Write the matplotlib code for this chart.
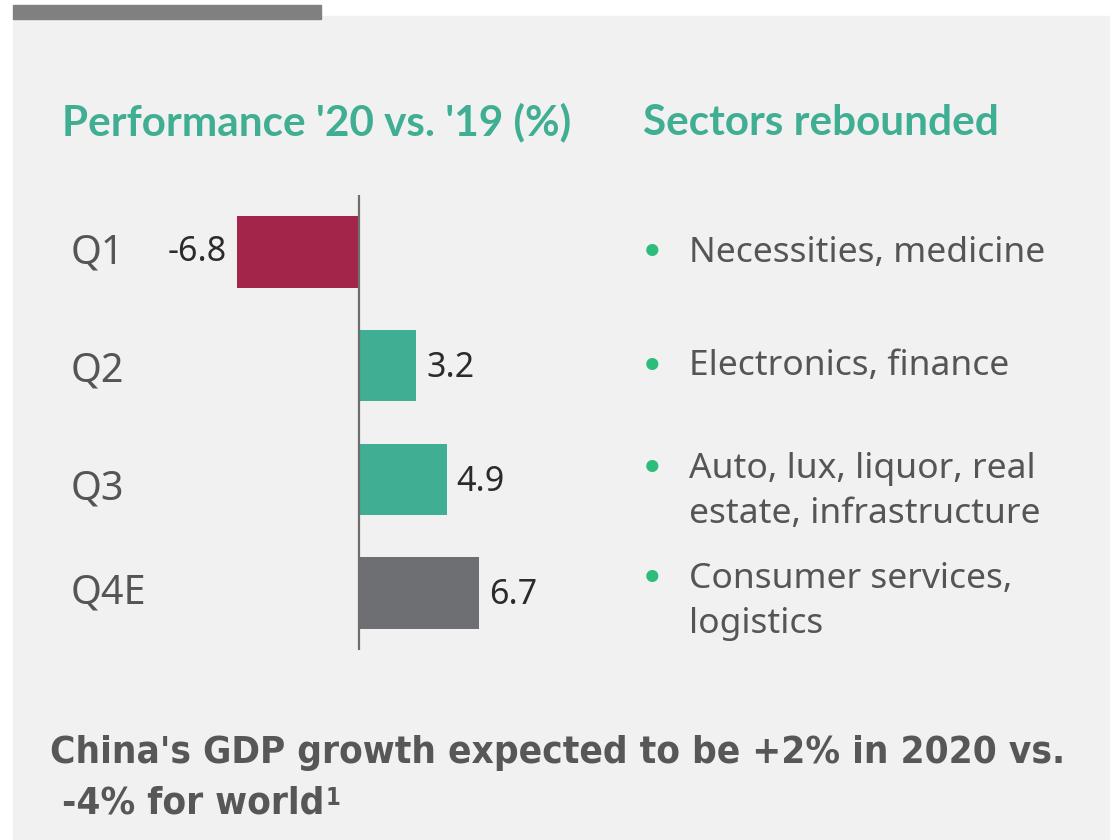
import matplotlib.pyplot as plt
from matplotlib.patches import Rectangle
from matplotlib import font_manager

# data
quarters = ["Q1", "Q2", "Q3", "Q4E"]
values = [-6.8, 3.2, 4.9, 6.7]
bar_colors = ["#a3264a", "#3fae92", "#3fae92", "#6e6f73"]
value_labels = ["-6.8", "3.2", "4.9", "6.7"]
sectors = [["Necessities, medicine"], ["Electronics, finance"],
           ["Auto, lux, liquor, real", "estate, infrastructure"],
           ["Consumer services,", "logistics"]]

W, H = 1110, 840
fig = plt.figure(figsize=(W / 100, H / 100), dpi=100)
fig.patch.set_facecolor("white")


def fx(px):
    return px / W


def fy(py):
    return 1 - py / H


# panel background and top accent bar
fig.patches.append(Rectangle((fx(13), 0), fx(W) - fx(13), fy(16),
                             transform=fig.transFigure, color="#f1f1f1", zorder=-2))
fig.patches.append(Rectangle((fx(13), fy(19)), fx(321) - fx(13), fy(5) - fy(19),
                             transform=fig.transFigure, color="#808080", zorder=-1))

font = "Noto Sans"
green = "#3fae92"
grey_txt = "#555555"

# titles
fig.text(fx(62), fy(135), "Performance '20 vs. '19 (%)", color=green,
         fontsize=30.4, fontweight="bold", family="Lato", va="baseline")
fig.text(fx(643), fy(135), "Sectors rebounded", color=green,
         fontsize=30.4, fontweight="bold", family="Lato", va="baseline")

# bar chart
ax_l, ax_r, ax_t, ax_b = 50, 600, 195, 650
ax = fig.add_axes([fx(ax_l), fy(ax_b), fx(ax_r) - fx(ax_l), fy(ax_t) - fy(ax_b)])
ax.set_zorder(2)
ax.set_facecolor("none")
scale = 17.9
ax.set_xlim(-(359 - ax_l) / scale, (ax_r - 359) / scale)
ax.set_ylim(3.5, -0.5)
ypos = list(range(len(quarters)))
ax.barh(ypos, values, height=0.63, color=bar_colors, zorder=2)
ax.axvline(0, color="#6e6e6e", lw=1.6, zorder=3)
for s in ax.spines.values():
    s.set_visible(False)
ax.set_xticks([])
ax.set_yticks([])

q_base = [263, 382, 500, 604]
for qb, q in zip(q_base, quarters):
    fig.text(fx(71), fy(qb), q, fontsize=28.5, family=font,
             color=grey_txt, va="baseline", ha="left")

for y, v, lab in zip(ypos, values, value_labels):
    off = 0.55 if v > 0 else -0.6
    ax.text(v + off, y + (0.02 if v > 0 else 0), lab, fontsize=24.5, family=font,
            color="#2b2b2b", va="center", ha="left" if v > 0 else "right")

# sector bullets
bullet_y = [249, 363, 466, 576]
text_base = [262, 375, 478, 588]
for by, tb, lines in zip(bullet_y, text_base, sectors):
    fig.text(fx(652), fy(by), "\u2022", color="#2dbd7a", fontsize=30,
             family="DejaVu Sans", va="center_baseline", ha="center")
    for i, line in enumerate(lines):
        fig.text(fx(689), fy(tb + 45 * i), line, color=grey_txt, fontsize=25.5,
                 family=font, va="baseline")

# footer, condensed bold face if one is present
foot_font = "Roboto"
foot_kw = {}
for fam in ["Liberation Sans Narrow", "DejaVu Sans"]:
    try:
        fp = font_manager.FontProperties(family=fam, weight="bold", stretch="condensed")
        path = font_manager.findfont(fp, fallback_to_default=False)
        if "Narrow" in path or "Condensed" in path:
            foot_font = fam
            foot_kw = {"fontstretch": "condensed"}
            break
    except ValueError:
        pass

foot_col = "#575757"
fig.text(fx(50), fy(763), "China's GDP growth expected to be +2% in 2020 vs.",
         color=foot_col, fontsize=27.7, fontweight="bold",
         family=foot_font, va="baseline", **foot_kw)
t2 = fig.text(fx(50), fy(813), " -4% for world",
              color=foot_col, fontsize=27.7, fontweight="bold",
              family=foot_font, va="baseline", **foot_kw)
# footnote marker right after "world"
ax.annotate("1", xy=(1, 1), xycoords=t2, xytext=(1, -1), textcoords="offset points",
            color=foot_col, fontsize=17, fontweight="bold", family=foot_font,
            va="top", ha="left", annotation_clip=False, **foot_kw)

fig.savefig("out.png", dpi=100, facecolor=fig.get_facecolor())
